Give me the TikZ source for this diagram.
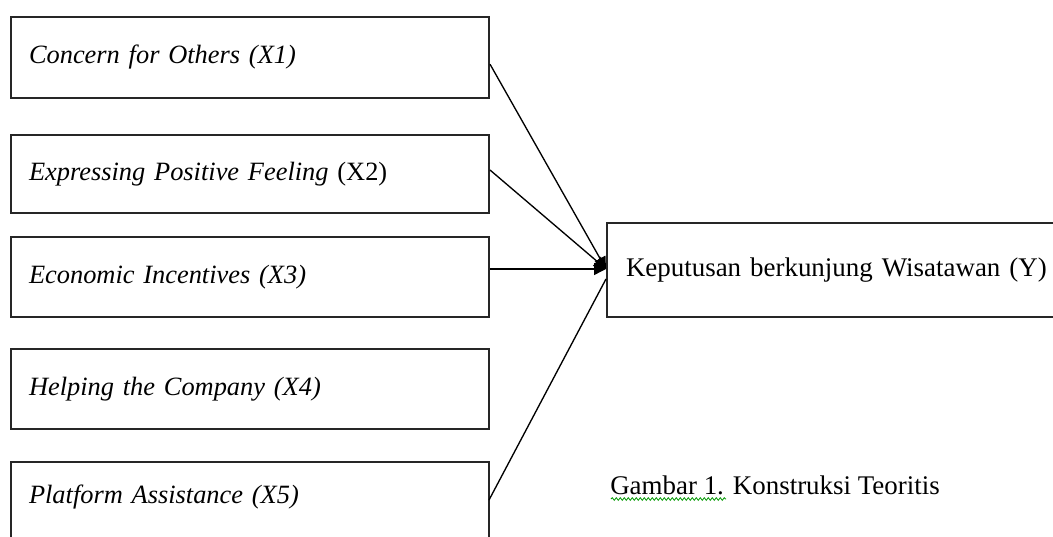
\documentclass[tikz,border=0pt]{standalone}
\usepackage{fontspec}
\setmainfont{Liberation Serif}
\usetikzlibrary{arrows.meta,decorations.pathmorphing}
\begin{document}
\begin{tikzpicture}[x=0.75pt,y=-0.75pt,
  box/.style={draw=black!85,line width=1.5pt,anchor=north west,minimum width=478*0.75pt,
    minimum height=81*0.75pt,inner sep=0pt,text width=478*0.75pt-36*0.75pt,align=left,
    font=\fontsize{19.8}{23}\selectfont},
  conn/.style={line width=1pt,-{Triangle[length=9pt,width=9pt]}}]
\useasboundingbox (0,0) rectangle (1053,536);
\clip (0,0) rectangle (1053,536);
\fill[white] (0,0) rectangle (1053,536);
\node[box] (b1) at (10,16) {\itshape Concern for Others (X1)};
\node[box,minimum height=78*0.75pt] (b2) at (10,134) {\itshape Expressing Positive Feeling\upshape{} (X2)};
\node[box,minimum height=80*0.75pt] (b3) at (10,236) {\itshape Economic Incentives (X3)};
\node[box,minimum height=80*0.75pt] (b4) at (10,348) {\itshape Helping the Company (X4)};
\node[box,minimum height=80*0.75pt,text depth=12pt] (b5) at (10,461) {\itshape Platform Assistance (X5)\\[0pt]\mbox{}};
\node[draw=black!85,line width=1.5pt,anchor=north west,minimum width=480*0.75pt,minimum height=94*0.75pt,
  inner sep=0pt,text width=470*0.75pt,align=left,font=\fontsize{20.2}{23}\selectfont] (y) at (606,222)
  {\hspace*{10.5pt}Keputusan berkunjung Wisatawan (Y)};
\coordinate (t) at (606,269);
\coordinate (t5) at (606,279);
\draw[conn] ([yshift=-5pt]b1.east) -- (t);
\draw[conn] ([yshift=3pt]b2.east) -- (t);
\draw[conn] (b3.east |- t) -- (t);
\draw[line width=1pt] (489,500) coordinate (s5) -- (t5);
\node[anchor=west,inner sep=0pt,font=\fontsize{20.2}{23}\selectfont] (cap) at (610,485) {Gambar 1. Konstruksi Teoritis};
\draw[green!60!black,line width=0.6pt,decorate,decoration={snake,amplitude=1pt,segment length=3pt}]
  (611,499) -- (726,499);
\end{tikzpicture}
\end{document}
